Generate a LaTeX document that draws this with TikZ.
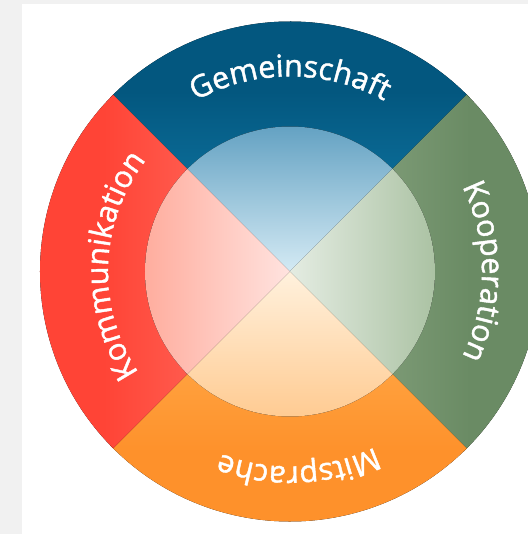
\documentclass[tikz,border=0pt]{standalone}
\usepackage{fontspec}
\setmainfont{Open Sans}
\newfontfamily\ringfamily{Open Sans}[FakeBold=1.4]
\usetikzlibrary{decorations.text}
\definecolor{stripgray}{HTML}{F1F1F1}
\definecolor{gemblue}{HTML}{03577F}
\definecolor{gembluelight}{HTML}{0B6B96}
\definecolor{koopgreen}{HTML}{6A8B64}
\definecolor{koopgreenlight}{HTML}{7C9A75}
\definecolor{mitorange}{HTML}{FE912B}
\definecolor{mitorangelight}{HTML}{FFA23F}
\definecolor{komred}{HTML}{FF4436}
\definecolor{komredlight}{HTML}{FF5B4E}
\tikzstyle{ringlabel}=[decorate,decoration={text along path,text align=center,text color=white}]
\newcommand{\ringfont}{\ringfamily\fontsize{26}{30}\selectfont}

\begin{document}
\begin{tikzpicture}[x=0.3mm,y=0.3mm]
	\useasboundingbox (-290,-262.5) rectangle (238,271.5);
	\clip (-290,-262.5) rectangle (238,271.5);
	\fill[white] (-290,-262.5) rectangle (238,271.5);
	\fill[stripgray] (-290,-262.5) rectangle (-268,271.5);
	\fill[stripgray] (-268,267.5) rectangle (238,271.5);
	\coordinate (centre) at (0,0);

	% outer ring
	\fill[top color=gemblue, bottom color=gembluelight, middle color=gemblue] (44:138) -- (44:250) arc[start angle=44, end angle=136, radius=250] -- (136:138) arc[start angle=136, end angle=44, radius=138] -- cycle;
	\fill[right color=koopgreen, left color=koopgreenlight, middle color=koopgreen] (-46:138) -- (-46:250) arc[start angle=-46, end angle=45, radius=250] -- (45:138) arc[start angle=45, end angle=-46, radius=138] -- cycle;
	\fill[bottom color=mitorange, top color=mitorangelight, middle color=mitorange] (224:138) -- (224:250) arc[start angle=224, end angle=315, radius=250] -- (315:138) arc[start angle=315, end angle=224, radius=138] -- cycle;
	\fill[left color=komred, right color=komredlight, middle color=komred] (135:138) -- (135:250) arc[start angle=135, end angle=225, radius=250] -- (225:138) arc[start angle=225, end angle=135, radius=138] -- cycle;

	% inner circle
	\fill[top color={rgb,255:red,94;green,158;blue,192}, bottom color={rgb,255:red,212;green,234;blue,244}] (centre) -- (44:145) arc[start angle=44, end angle=136, radius=145] -- cycle;
	\fill[right color={rgb,255:red,168;green,192;blue,160}, left color={rgb,255:red,228;green,236;blue,226}] (centre) -- (-46:145) arc[start angle=-46, end angle=45, radius=145] -- cycle;
	\fill[bottom color={rgb,255:red,255;green,201;blue,142}, top color={rgb,255:red,255;green,241;blue,221}] (centre) -- (224:145) arc[start angle=224, end angle=315, radius=145] -- cycle;
	\fill[left color={rgb,255:red,255;green,168;blue,152}, right color={rgb,255:red,255;green,227;blue,223}] (centre) -- (135:145) arc[start angle=135, end angle=225, radius=145] -- cycle;

	% labels
	\path[ringlabel, decoration={text={|\ringfont|Gemeinschaft}}] (140:195) arc[start angle=140, end angle=40, radius=195];
	\path[ringlabel, decoration={text={|\ringfont|Kooperation}}] (50:192) arc[start angle=50, end angle=-50, radius=192];
	\path[ringlabel, decoration={text={|\ringfont|Mitsprache}}] (-37:195) arc[start angle=-37, end angle=-138, radius=195];
	\path[ringlabel, decoration={text={|\ringfont|Kommunikation}}] (228:182) arc[start angle=228, end angle=128, radius=182];
\end{tikzpicture}
\end{document}
